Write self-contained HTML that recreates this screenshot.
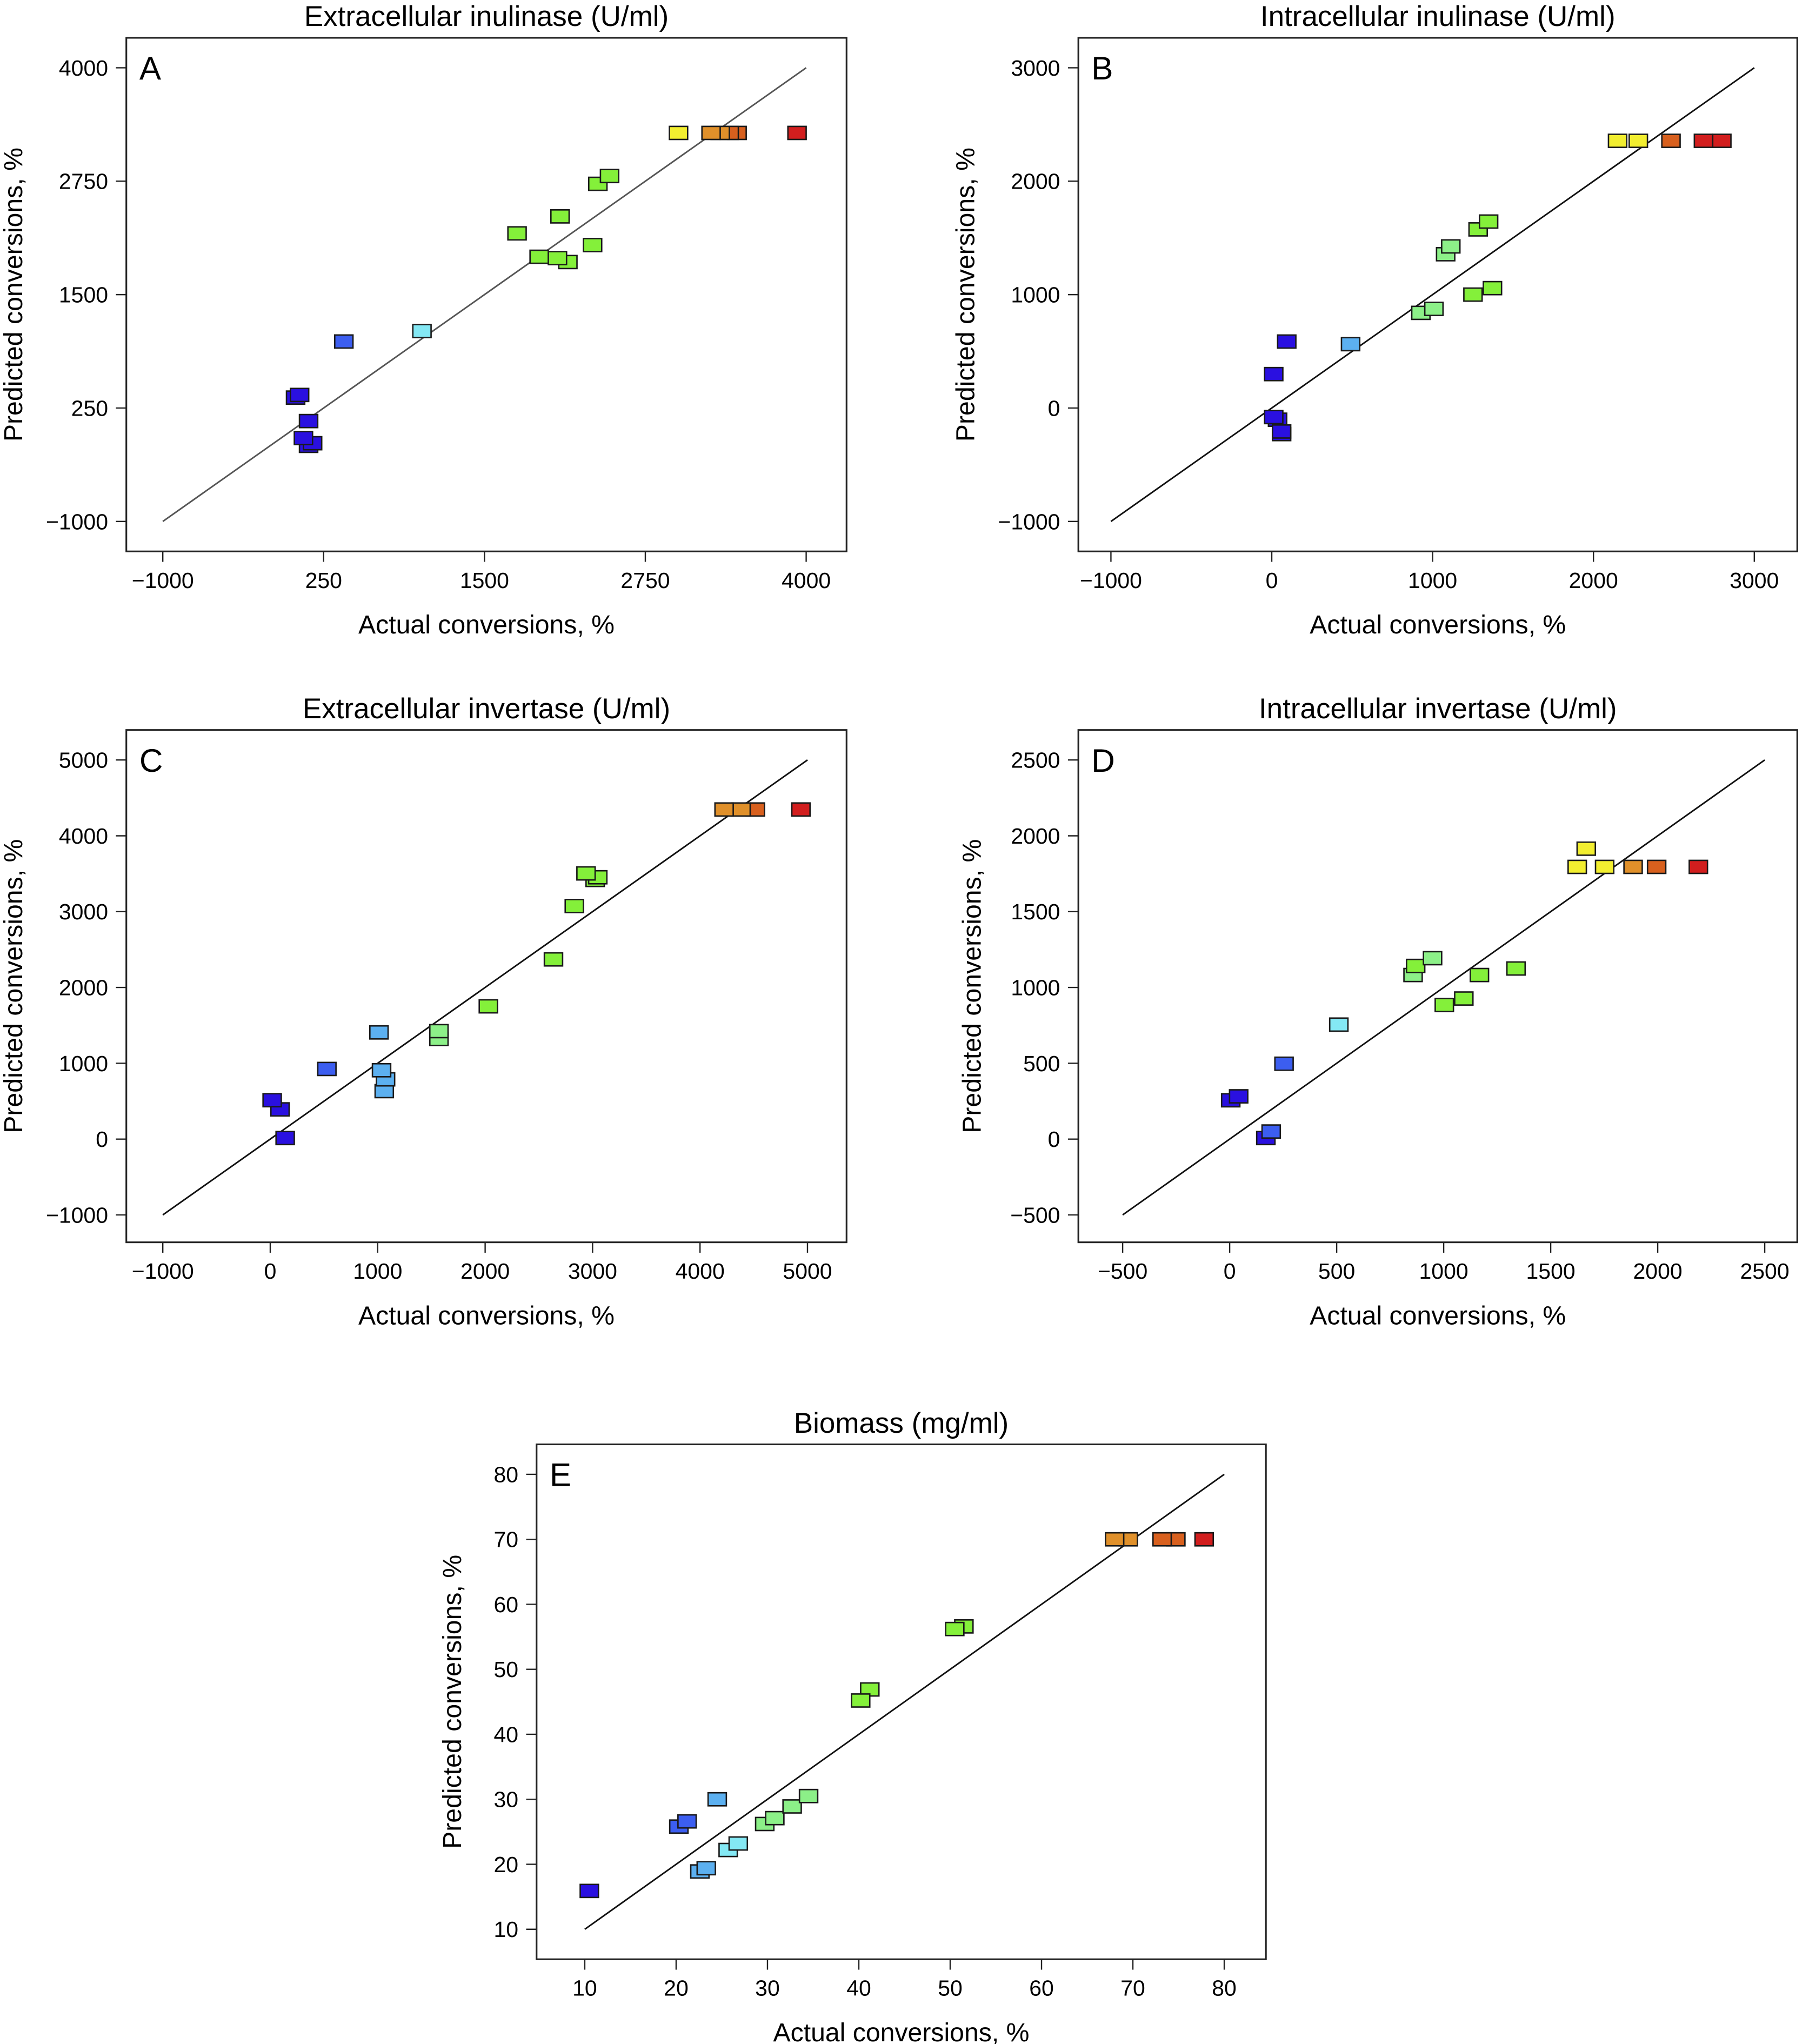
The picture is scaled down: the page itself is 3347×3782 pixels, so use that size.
<!DOCTYPE html>
<html><head><meta charset="utf-8">
<style>
html,body{margin:0;padding:0;background:#fff;}
svg{display:block;}
text{font-family:"Liberation Sans Narrow","Liberation Sans",sans-serif;fill:#000;}
.yt{font-family:"Liberation Sans",sans-serif;}
</style></head>
<body>
<svg id="fig" width="3347" height="3782" viewBox="0 0 1389 1568" preserveAspectRatio="none" xmlns="http://www.w3.org/2000/svg"></svg>
<script>
const C={y:'#f2ee30',o:'#e0902a',do:'#d8601e',r:'#d21e1e',g:'#84f03a',lg:'#8cf088',c:'#84e8f4',lb:'#5cb0f0',b:'#3c5ef0',db:'#2a10e0'};
// Panel A data
const aX=[3929,3008,3261,3332,3402,3463,2472,2381,2087,1753,2340,1925,2067,2148,1014,407,63,32,133,93,164,133];
const aY=[3282,3282,3282,3282,3282,3282,2807,2721,2362,2175,2046,1917,1902,1859,1098,983,394,365,106,-81,-138,-167];
const aCol=['r','y','o','o','do','do','g','g','g','g','g','g','g','g','c','b','db','db','db','db','db','db'];
const aTicks=[-1000,250,1500,2750,4000];
// Panel B data
const bX=[2150,2279,2482,2684,2798,1348,1283,1113,1081,1372,1251,1008,927,490,93,12,12,61,36,61];
const bY=[2356,2356,2356,2356,2356,1644,1575,1425,1356,1057,1000,874,839,563,586,299,-80,-207,-103,-230];
const bCol=['y','y','do','r','r','g','g','lg','lg','g','g','lg','lg','lb','db','db','db','db','db','db'];
const bXTicks=[-1000,0,1000,2000,3000];
const bYTicks=[-1000,0,1000,2000,3000];
// Panel C data
const cX=[4224,4382,4515,4939,2939,3048,3024,2830,2636,2030,1570,1570,1012,1036,1073,1061,527,18,91,139];
const cY=[4347,4347,4347,4347,3504,3453,3418,3074,2370,1751,1424,1321,1407,908,788,633,925,513,392,14];
const cCol=['o','o','do','r','g','g','g','g','g','g','lg','lg','lb','lb','lb','lb','b','db','db','db'];
const cTicks=[-1000,0,1000,2000,3000,4000,5000];
// Panel D data
const dX=[1666,1624,1752,1885,1995,2190,948,869,857,1338,1167,1094,1003,510,254,42,5,194,169];
const dY=[1915,1795,1795,1795,1795,1795,1193,1142,1082,1125,1082,927,884,755,497,282,256,50,7];
const dCol=['y','y','y','o','do','r','lg','g','lg','g','g','g','g','c','b','db','db','b','db'];
const dTicks=[-500,0,500,1000,1500,2000,2500];
// Panel E data
const eX=[68.0,69.5,73.2,74.7,77.8,50.5,51.5,40.2,41.2,34.5,32.7,30.8,29.7,26.8,25.7,24.5,23.3,22.6,21.2,20.3,10.5];
const eY=[70,70,70,70,70,56.2,56.6,45.2,46.9,30.5,28.9,27.1,26.2,23.2,22.2,30,19.4,18.9,26.6,25.8,15.9];
const eCol=['o','o','do','do','r','g','g','g','g','lg','lg','lg','lg','c','c','lb','lb','lb','b','b','db'];
const eTicks=[10,20,30,40,50,60,70,80];

const NS='http://www.w3.org/2000/svg';
const fig=document.getElementById('fig');
function mk(tag,attrs,parent,txt){const e=document.createElementNS(NS,tag);for(const k in attrs)e.setAttribute(k,attrs[k]);if(txt!==undefined)e.textContent=txt;parent.appendChild(e);return e;}

function panel(p){
  const g=mk('g',{},fig);
  
  
  const sx=v=>p.px0+(v-p.x0)/(p.x1-p.x0)*(p.px1-p.px0);
  const sy=v=>p.py0+(v-p.y0)/(p.y1-p.y0)*(p.py1-p.py0);
  const fr=mk('rect',{x:p.fx0,y:p.fy0,width:p.fx1-p.fx0,height:p.fy1-p.fy0,fill:'none',stroke:'#222','stroke-width':1.3},g);
  
  
  const t=mk('text',{x:(p.fx0+p.fx1)/2,y:p.fy0-9,'text-anchor':'middle','font-size':22},g,p.title);
  
  
  const L=mk('text',{x:p.fx0+10,y:p.fy0+32,'font-size':25,class:'yt'},g,p.id);
  
  
  p.xt.forEach(v=>{
    const x=sx(v);
    mk('line',{x1:x,x2:x,y1:p.fy1,y2:p.fy1+8,stroke:'#222','stroke-width':1},g);
    const tl=mk('text',{x:x,y:p.fy1+28,'text-anchor':'middle','font-size':17},g,v<0?'\u2212'+(-v):String(v));
    
    
  });
  p.yt.forEach(v=>{
    const y=sy(v);
    mk('line',{x1:p.fx0-8,x2:p.fx0,y1:y,y2:y,stroke:'#222','stroke-width':1},g);
    const tl=mk('text',{x:p.fx0-14,y:y+6,'text-anchor':'end','font-size':17},g,v<0?'\u2212'+(-v):String(v));
    
    
  });
  const xl=mk('text',{x:(p.fx0+p.fx1)/2,y:p.fy1+63,'text-anchor':'middle','font-size':20},g,'Actual conversions, %');
  
  
  const yx=p.fx0-p.ylOff, yy=(p.fy0+p.fy1)/2;
  const yl=mk('text',{x:yx,y:yy,'text-anchor':'middle','font-size':20,class:'yt',transform:'rotate(-90 '+yx+' '+yy+')'},g,'Predicted conversions, %');
  
  
  const ln=mk('line',{x1:sx(p.lmin),y1:sy(p.lmin),x2:sx(p.lmax),y2:sy(p.lmax),stroke:p.lc,'stroke-width':1.2},g);
  
  
  for(let i=p.X.length-1;i>=0;i--){
    const r=mk('rect',{x:sx(p.X[i])-7,y:sy(p.Y[i])-5,width:14,height:10,fill:C[p.col[i]],stroke:'#1a1a1a','stroke-width':1.1},g);
    
    
  }
}
panel({id:'A',title:'Extracellular inulinase (U/ml)',X:aX,Y:aY,col:aCol,xt:aTicks,yt:aTicks,
  x0:-1000,x1:4000,px0:125,px1:619,y0:4000,y1:-1000,py0:52,py1:400,fx0:97,fx1:650,fy0:29,fy1:423,lmin:-1000,lmax:4000,lc:'#555',ylOff:80});
panel({id:'B',title:'Intracellular inulinase (U/ml)',X:bX,Y:bY,col:bCol,xt:bXTicks,yt:bYTicks,
  x0:-1000,x1:3000,px0:853,px1:1347,y0:3000,y1:-1000,py0:52,py1:400,fx0:828,fx1:1380,fy0:29,fy1:423,lmin:-1000,lmax:3000,lc:'#111',ylOff:80});
panel({id:'C',title:'Extracellular invertase (U/ml)',X:cX,Y:cY,col:cCol,xt:cTicks,yt:cTicks,
  x0:-1000,x1:5000,px0:125,px1:620,y0:5000,y1:-1000,py0:583,py1:932,fx0:97,fx1:650,fy0:560,fy1:953,lmin:-1000,lmax:5000,lc:'#111',ylOff:80});
panel({id:'D',title:'Intracellular invertase (U/ml)',X:dX,Y:dY,col:dCol,xt:dTicks,yt:dTicks,
  x0:-500,x1:2500,px0:862,px1:1355,y0:2500,y1:-500,py0:583,py1:932,fx0:828,fx1:1380,fy0:560,fy1:953,lmin:-500,lmax:2500,lc:'#111',ylOff:75});
panel({id:'E',title:'Biomass (mg/ml)',X:eX,Y:eY,col:eCol,xt:eTicks,yt:eTicks,
  x0:10,x1:80,px0:449,px1:940,y0:80,y1:10,py0:1131,py1:1480,fx0:412,fx1:972,fy0:1108,fy1:1503,lmin:10,lmax:80,lc:'#111',ylOff:58});
</script>
</body></html>
